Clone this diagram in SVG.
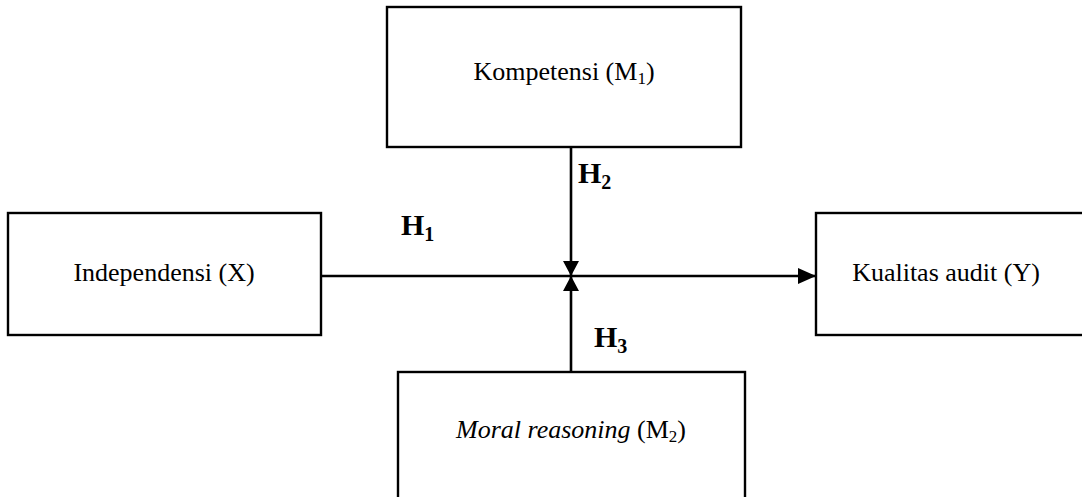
<svg xmlns="http://www.w3.org/2000/svg" width="1082" height="497" viewBox="0 0 1082 497">
<style>
.box{fill:#fff;stroke:#000;stroke-width:2.4}
.t{font-family:"Liberation Serif","Times New Roman",serif;font-size:26px;fill:#000}
.h{font-family:"Liberation Serif","Times New Roman",serif;font-size:30px;font-weight:bold;fill:#000}
.sub{font-size:17px}
.hs{font-size:20px}
.ln{stroke:#000;stroke-width:2.6;fill:none}
</style>
<defs>
<marker id="arr" markerUnits="userSpaceOnUse" markerWidth="18" markerHeight="16" viewBox="0 0 18 16" refX="18" refY="8" orient="auto">
<path d="M0,0 L18,8 L0,16 Z" fill="#000"/>
</marker>
<marker id="arrs" markerUnits="userSpaceOnUse" markerWidth="15" markerHeight="16" viewBox="0 0 15 16" refX="15" refY="8" orient="auto">
<path d="M0,0 L15,8 L0,16 Z" fill="#000"/>
</marker>
</defs>
<g id="connectors">
<line class="ln" x1="321" y1="276" x2="816" y2="276" marker-end="url(#arr)"/>
<line class="ln" x1="571" y1="147" x2="571" y2="276" marker-end="url(#arrs)"/>
<line class="ln" x1="571" y1="372" x2="571" y2="276" marker-end="url(#arrs)"/>
<text class="h" x="401" y="235">H<tspan class="hs" dy="6">1</tspan></text>
<text class="h" x="578" y="183">H<tspan class="hs" dy="6">2</tspan></text>
<text class="h" x="594" y="347">H<tspan class="hs" dy="6">3</tspan></text>
</g>
<g id="kompetensi">
<rect class="box" x="387" y="7" width="354" height="140"/>
<text class="t" x="564" y="80" text-anchor="middle">Kompetensi (M<tspan class="sub" dy="4">1</tspan><tspan dy="-4">)</tspan></text>
</g>
<g id="independensi">
<rect class="box" x="8" y="213" width="313" height="122"/>
<text class="t" x="164" y="281" text-anchor="middle">Independensi (X)</text>
</g>
<g id="kualitas">
<rect class="box" x="816" y="213" width="275" height="122"/>
<text class="t" x="946" y="281" text-anchor="middle">Kualitas audit (Y)</text>
</g>
<g id="moral">
<rect class="box" x="398" y="372" width="347" height="140"/>
<text class="t" x="571" y="438" text-anchor="middle"><tspan font-style="italic">Moral reasoning</tspan> (M<tspan class="sub" dy="4">2</tspan><tspan dy="-4">)</tspan></text>
</g>
</svg>
